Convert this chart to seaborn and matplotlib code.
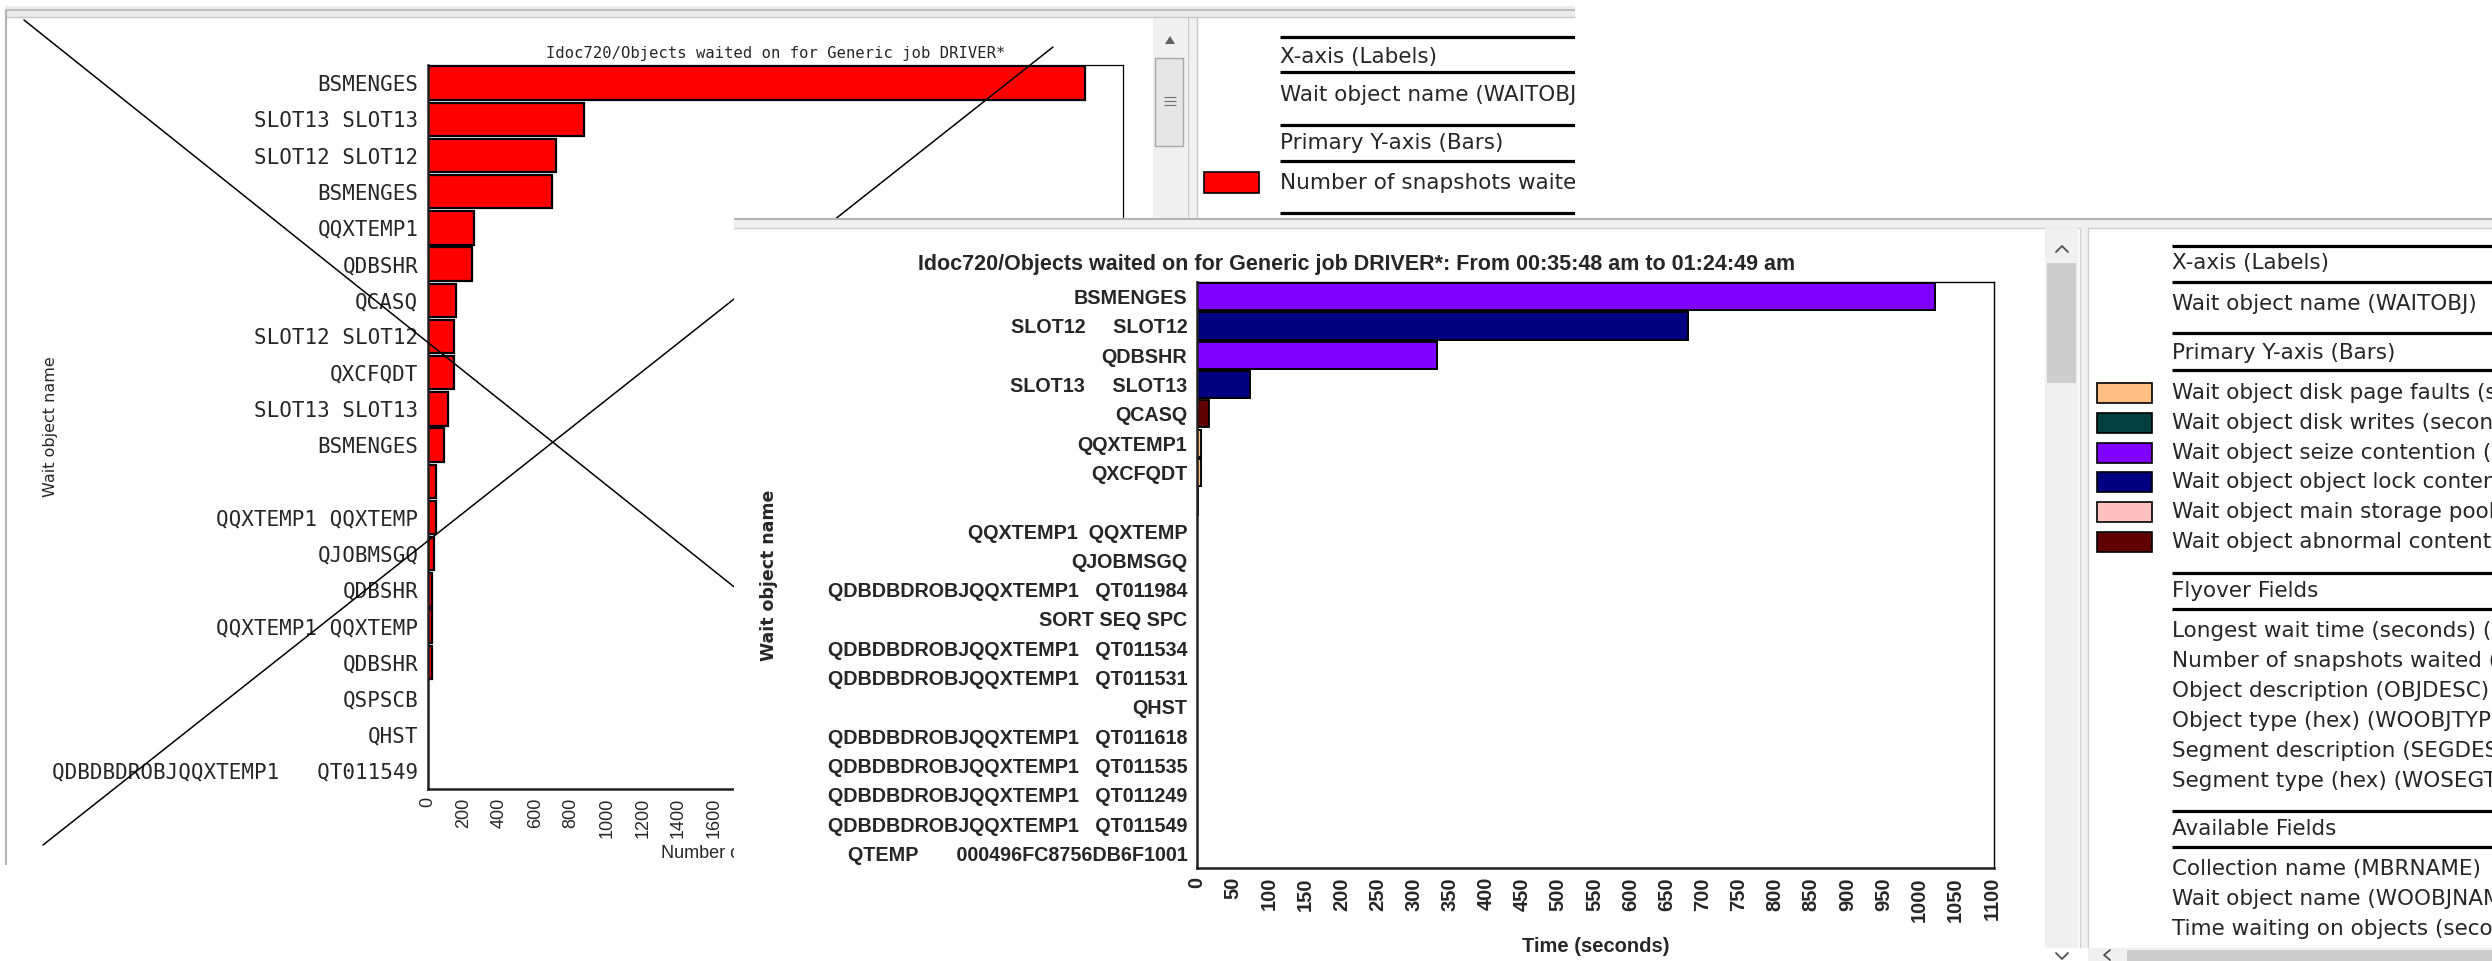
import numpy as np
import pandas as pd
import matplotlib
matplotlib.use('Agg')
import matplotlib.pyplot as plt
from matplotlib.patches import Rectangle
import seaborn as sns

# ---------------- data ----------------
back_title = 'Idoc720/Objects waited on for Generic job DRIVER*'
back_labels = ['BSMENGES', 'SLOT13 SLOT13', 'SLOT12 SLOT12', 'BSMENGES', 'QQXTEMP1',
               'QDBSHR', 'QCASQ', 'SLOT12 SLOT12', 'QXCFQDT', 'SLOT13 SLOT13',
               'BSMENGES', '', 'QQXTEMP1 QQXTEMP', 'QJOBMSGQ', 'QDBSHR',
               'QQXTEMP1 QQXTEMP', 'QDBSHR', 'QSPSCB', 'QHST',
               'QDBDBDROBJQQXTEMP1   QT011549']
back_values = [3672, 872, 715, 693, 257, 246, 156, 145, 145, 112,
               89, 45, 45, 34, 22, 22, 22, 0, 0, 0]
back_xticks = list(range(0, 3801, 200))

front_title = 'Idoc720/Objects waited on for Generic job DRIVER*: From 00:35:48 am to 01:24:49 am'
front_labels = ['BSMENGES', 'SLOT12     SLOT12', 'QDBSHR', 'SLOT13     SLOT13', 'QCASQ',
                'QQXTEMP1', 'QXCFQDT', '', 'QQXTEMP1  QQXTEMP', 'QJOBMSGQ',
                'QDBDBDROBJQQXTEMP1   QT011984', 'SORT SEQ SPC',
                'QDBDBDROBJQQXTEMP1   QT011534', 'QDBDBDROBJQQXTEMP1   QT011531', 'QHST',
                'QDBDBDROBJQQXTEMP1   QT011618', 'QDBDBDROBJQQXTEMP1   QT011535',
                'QDBDBDROBJQQXTEMP1   QT011249', 'QDBDBDROBJQQXTEMP1   QT011549',
                'QTEMP       000496FC8756DB6F1001']
series_names = ['Wait object disk page faults (seconds)',
                'Wait object disk writes (seconds)',
                'Wait object seize contention (seconds)',
                'Wait object object lock contention (seconds)',
                'Wait object main storage pool contention (seconds)',
                'Wait object abnormal contention (seconds)']
series_colors = ['#ffbf80', '#004040', '#8000ff', '#000080', '#ffc0c0', '#600000']
page_faults = [0, 0, 0, 0, 0, 6, 6, 0, 0, 0, 0, 0, 0, 0, 0, 0, 0, 0, 0, 0]
disk_writes = [0, 0, 0, 0, 0, 0, 0, 2, 0, 0, 0, 0, 0, 0, 0, 0, 0, 0, 0, 0]
seize = [1022, 0, 332, 0, 0, 0, 0, 0, 0, 0, 0, 0, 0, 0, 0, 0, 0, 0, 0, 0]
obj_lock = [0, 680, 0, 74, 0, 0, 0, 0, 0, 0, 0, 0, 0, 0, 0, 0, 0, 0, 0, 0]
storage_pool = [0] * 20
abnormal = [0, 0, 0, 0, 17, 0, 0, 0, 0, 0, 0, 0, 0, 0, 0, 0, 0, 0, 0, 0]
front_xticks = list(range(0, 1101, 50))

back_panel_text = ['X-axis (Labels)', 'Wait object name (WAITOBJ)',
                   'Primary Y-axis (Bars)', 'Number of snapshots waited (SNAPSHOTS)']
flyover_fields = ['Longest wait time (seconds) (LONGWAIT)', 'Number of snapshots waited (SNAPSHOTS)',
                  'Object description (OBJDESC)', 'Object type (hex) (WOOBJTYPE)',
                  'Segment description (SEGDESC)', 'Segment type (hex) (WOSEGTYPE)']
available_fields = ['Collection name (MBRNAME)', 'Wait object name (WOOBJNAME)',
                    'Time waiting on objects (seconds)']

# ---------------- layout helpers (pixel coords, y down) ----------------
W, H = 2492, 961
sns.set_style('white')
fig = plt.figure(figsize=(W / 100, H / 100), dpi=100)
fig.patch.set_facecolor('white')

ARIAL = ['Liberation Sans', 'DejaVu Sans']
MONO = ['DejaVu Sans Mono', 'Liberation Mono']
UI = ['DejaVu Sans']
PANEL_FS = 15.5


def box(l, t, r, b):
    return [l / W, 1 - b / H, (r - l) / W, (b - t) / H]


def canvas(l, t, r, b, z):
    ax = fig.add_axes(box(l, t, r, b), zorder=z)
    ax.set_xlim(l, r)
    ax.set_ylim(b, t)
    ax.axis('off')
    return ax


def hline(ax, x0, x1, y, color, lw):
    ax.plot([x0, x1], [y, y], color=color, lw=lw, solid_capstyle='butt')


def vline(ax, x, y0, y1, color, lw):
    ax.plot([x, x], [y0, y1], color=color, lw=lw, solid_capstyle='butt')


# ---------------- back window chart ----------------
axb = fig.add_axes(box(428, 65, 1123, 789), zorder=1)
back_df = pd.DataFrame({'row': range(len(back_labels)), 'snapshots': back_values})
sns.barplot(data=back_df, x='snapshots', y='row', orient='h', color='#ff0000',
            saturation=1, width=0.92, edgecolor='black', linewidth=1.6,
            errorbar=None, ax=axb)
for p in axb.patches:
    if p.get_width() == 0:
        p.set_visible(False)
axb.set_xlim(0, 3885)
axb.set_xticks(back_xticks)
axb.set_xticklabels([str(v) for v in back_xticks], rotation=90, fontsize=13, family=ARIAL)
axb.set_yticks(range(len(back_labels)))
axb.set_yticklabels(back_labels, fontsize=15, family=MONO)
axb.tick_params(axis='y', length=0, pad=7)
axb.tick_params(axis='x', length=0, pad=6)
for s in ['left', 'bottom']:
    axb.spines[s].set_linewidth(1.8)
    axb.spines[s].set_color('#222222')
for s in ['top', 'right']:
    axb.spines[s].set_linewidth(0.9)
    axb.spines[s].set_color('black')
axb.set_title(back_title, fontsize=11.2, family=MONO, pad=5)
axb.set_xlabel('Number of snapshots waited', fontsize=13, family=ARIAL)
axb.xaxis.set_label_coords(0.5, -0.077)
axb.set_ylabel('Wait object name', fontsize=11.5, family=UI)
axb.yaxis.set_label_coords(-0.532, 0.5)

# ---------------- back window decorations ----------------
ov = canvas(0, 0, W, H, 2)
ov.add_patch(Rectangle((5, 6), 1570, 11, facecolor='#ececec', edgecolor='none'))
hline(ov, 5, 1575, 10, '#b4b4b4', 1.2)
hline(ov, 5, 1575, 17, '#c8c8c8', 1.0)
vline(ov, 6, 10, 865, '#b4b4b4', 1.5)
# back scrollbar
ov.add_patch(Rectangle((1153, 17), 34, 201, facecolor='#f0f0f0', edgecolor='none'))
ov.add_patch(Rectangle((1155, 58), 28, 88, facecolor='#e6e6e6', edgecolor='#a8a8a8', lw=1))
ov.add_patch(plt.Polygon([[1165, 44], [1175, 44], [1170, 36]], closed=True,
                         facecolor='#606060', edgecolor='none'))
for gy in [97, 101, 105]:
    hline(ov, 1164, 1176, gy, '#707070', 0.8)
ov.add_patch(Rectangle((1188, 17), 9, 201, facecolor='#f0f0f0', edgecolor='none'))
vline(ov, 1188, 17, 218, '#c8c8c8', 1)
vline(ov, 1197, 17, 218, '#c8c8c8', 1)
# the big cross
ov.plot([24, 1100], [20, 879], color='black', lw=1.1)
ov.plot([43, 1053], [845, 47], color='black', lw=1.1)

# back legend panel
bp = canvas(1197, 17, 1575, 218, 2.5)
for y in [37, 72, 125, 161, 213]:
    hline(bp, 1280, 1575, y, 'black', 2.3)
for y, t in zip([57, 95, 143, 183], back_panel_text):
    bp.text(1280, y, t, fontsize=PANEL_FS, family=UI, va='center', ha='left', clip_on=True)
bp.add_patch(Rectangle((1204, 172), 55, 21, facecolor='#ff0000', edgecolor='black', lw=1.2))

# ---------------- front window ----------------
fb = canvas(0, 0, W, H, 3)
fb.add_patch(Rectangle((734, 218), W - 734, H - 218, facecolor='white', edgecolor='none'))
fb.add_patch(Rectangle((734, 218), W - 734, 10, facecolor='#f0f0f0', edgecolor='none'))
hline(fb, 734, W, 219, '#a8a8a8', 1.2)
hline(fb, 734, W, 228, '#cfcfcf', 1.0)

axf = fig.add_axes(box(1197, 282, 1994, 868), zorder=4)
rows = list(range(len(front_labels)))
stack = np.array([page_faults, disk_writes, seize, obj_lock, storage_pool, abnormal], dtype=float)
cum = np.cumsum(stack, axis=0)
for k in reversed(range(len(series_names))):
    sns.barplot(x=cum[k], y=rows, orient='h', color=series_colors[k], saturation=1,
                width=0.93, edgecolor='black', linewidth=1.3, errorbar=None, ax=axf)
for p in axf.patches:
    if p.get_width() == 0:
        p.set_visible(False)
axf.set_xlim(0, 1103)
axf.set_xticks(front_xticks)
axf.set_xticklabels([str(v) for v in front_xticks], rotation=90, fontsize=14.5,
                    fontweight='bold', family=ARIAL)
axf.set_yticks(rows)
axf.set_yticklabels(front_labels, fontsize=14.2, fontweight='bold', family=ARIAL)
axf.tick_params(axis='y', length=0, pad=7)
axf.tick_params(axis='x', length=0, pad=6.5)
for s in ['left', 'bottom']:
    axf.spines[s].set_linewidth(1.8)
    axf.spines[s].set_color('#222222')
for s in ['top', 'right']:
    axf.spines[s].set_linewidth(1.0)
    axf.spines[s].set_color('black')
axf.text(0.2, 1.0205, front_title, transform=axf.transAxes, ha='center', va='baseline',
         fontsize=15.5, fontweight='bold', family=ARIAL)
axf.set_xlabel('Time (seconds)', fontsize=14.5, fontweight='bold', family=ARIAL)
axf.xaxis.set_label_coords(0.5, -0.118)
axf.set_ylabel('Wait object name', fontsize=12.5, fontweight='bold', family=UI)
axf.yaxis.set_label_coords(-0.526, 0.5)

# front scrollbars and separators
fs = canvas(2040, 228, W, H, 5)
fs.add_patch(Rectangle((2045, 228), 33, 720, facecolor='#f0f0f0', edgecolor='none'))
fs.add_patch(Rectangle((2047, 263), 29, 120, facecolor='#cdcdcd', edgecolor='none'))
fs.plot([2056, 2062, 2068], [252, 246, 252], color='#505050', lw=1.3)
fs.add_patch(Rectangle((2080, 228), 8, 720, facecolor='#f0f0f0', edgecolor='none'))
vline(fs, 2080, 228, 948, '#d0d0d0', 1)
vline(fs, 2088, 228, 948, '#d0d0d0', 1)
fs.add_patch(Rectangle((2088, 948), W - 2088, 13, facecolor='#f0f0f0', edgecolor='none'))
fs.add_patch(Rectangle((2127, 950), W - 2127, 11, facecolor='#cdcdcd', edgecolor='none'))
fs.plot([2056, 2062, 2068], [953, 959, 953], color='#505050', lw=1.3)
fs.plot([2110, 2104, 2110], [950, 955, 960], color='#505050', lw=1.3)

# front legend panel
fp = canvas(2088, 228, W, 948, 6)
for y in [246, 282, 333, 370, 573, 609, 811, 847]:
    hline(fp, 2172, W, y, 'black', 2.3)
heads = [(263, 'X-axis (Labels)'), (304, 'Wait object name (WAITOBJ)'),
         (353, 'Primary Y-axis (Bars)'), (591, 'Flyover Fields'), (829, 'Available Fields')]
for y, t in heads:
    fp.text(2172, y, t, fontsize=PANEL_FS, family=UI, va='center', clip_on=True)
for i, (name, col) in enumerate(zip(series_names, series_colors)):
    y = 393 + i * 29.8
    fp.add_patch(Rectangle((2097, y - 10), 55, 20, facecolor=col, edgecolor='black', lw=1.2))
    fp.text(2172, y, name, fontsize=PANEL_FS, family=UI, va='center', clip_on=True)
for i, t in enumerate(flyover_fields):
    fp.text(2172, 631 + i * 30, t, fontsize=PANEL_FS, family=UI, va='center', clip_on=True)
for i, t in enumerate(available_fields):
    fp.text(2172, 869 + i * 30, t, fontsize=PANEL_FS, family=UI, va='center', clip_on=True)

fig.savefig('out.png', dpi=100, facecolor='white')
